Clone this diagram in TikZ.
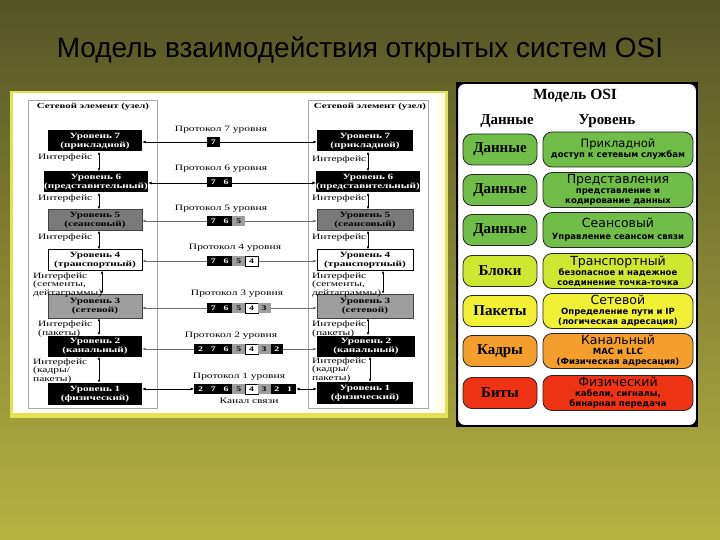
\documentclass[tikz,border=0pt]{standalone}
\usepackage{fontspec}
\setmainfont{Liberation Serif}
\newfontfamily\titlef{Liberation Sans}
\newfontfamily\lf[FakeStretch=1.4]{Liberation Serif}
\newfontfamily\pillf{DejaVu Sans}
\usetikzlibrary{arrows.meta,calc}
\definecolor{bgtop}{RGB}{84,84,38}
\definecolor{bgbot}{RGB}{182,180,66}
\definecolor{grn}{RGB}{112,190,72}
\definecolor{ygrn}{RGB}{206,232,50}
\definecolor{yel}{RGB}{242,240,52}
\definecolor{org}{RGB}{244,158,46}
\definecolor{rd}{RGB}{238,50,20}
\definecolor{glow}{RGB}{226,226,84}
\definecolor{gmid}{RGB}{122,122,122}
\definecolor{glight}{RGB}{158,158,158}
\definecolor{pline}{RGB}{110,110,110}
\newcommand\ptit[1]{{\mdseries\fontsize{12.5}{13}\selectfont #1}}
\begin{document}
\begin{tikzpicture}[x=1pt,y=-1pt,
  lvl/.style={minimum width=94, minimum height=21, inner sep=0pt, align=center,
    font=\lf\bfseries\fontsize{8}{8.6}\selectfont},
  blk/.style={lvl, fill=black, text=white},
  gra/.style={lvl, fill=gmid, draw=gray!50!black, text=black},
  grb/.style={lvl, fill=glight, draw=gray!50!black, text=black},
  wht/.style={lvl, fill=white, draw=black, text=black},
  lbl/.style={font=\lf\fontsize{8.2}{8.2}\selectfont, inner sep=0pt, align=left},
  plbl/.style={font=\lf\fontsize{8.2}{8.2}\selectfont, inner sep=0pt},
  hdr/.style={font=\lf\bfseries\fontsize{7.7}{9}\selectfont, inner sep=0pt},
  iarr/.style={{Latex[length=3pt,width=2.6pt]}-{Latex[length=3pt,width=2.6pt]}, line width=0.7pt},
  parr/.style={{Latex[length=3.5pt,width=3pt]}-{Latex[length=3.5pt,width=3pt]}, line width=0.7pt},
  cell/.style={minimum width=12.7, minimum height=10, inner sep=0pt,
    font=\lf\bfseries\fontsize{7}{7}\selectfont},
  cs7/.style={fill=black, text=white},
  cs6/.style={fill=black, text=white},
  cs5/.style={fill=glight, text=black},
  cs4/.style={fill=white, draw=black, text=black},
  cs3/.style={fill=glight, text=black},
  cs2/.style={fill=black, text=white},
  cs1/.style={fill=black, text=white},
  dpill/.style={rounded corners=9, minimum width=74, minimum height=31, draw=black!85,
    line width=0.8pt, inner sep=0pt, font=\bfseries\fontsize{15}{16}\selectfont},
  lpill/.style={rounded corners=9, minimum width=150, minimum height=35, draw=black!85,
    line width=0.8pt, inner sep=0pt, align=center,
    font=\pillf\bfseries\fontsize{8.5}{10}\selectfont}
]
% background
\useasboundingbox (0,0) rectangle (720,540);
\shade[top color=bgtop, bottom color=bgbot] (0,0) rectangle (720,540);
\node[font=\titlef\fontsize{28}{30}\selectfont, text=black] (title) at (360,50) {Модель взаимодействия открытых систем OSI};

% left panel
\fill[glow] (10,91) rectangle (448,418);
\fill[white!92!yellow] (13,93) rectangle (445,413);
\fill[white] (13,93) rectangle (436,411);
\draw[gray!70, line width=0.6pt] (28,100) rectangle (157,408);
\draw[gray!70, line width=0.6pt] (308,100) rectangle (428,408);
\node[hdr] (hl) at (93,107) {Сетевой элемент (узел)};
\node[hdr] (hr) at (370,107) {Сетевой элемент (узел)};

\node[blk] (L7) at (95,141) {Уровень 7\\(прикладной)};
\node[blk, minimum width=102] (L6) at (96,182) {Уровень 6\\(представительный)};
\node[gra] (L5) at (95,220) {Уровень 5\\(сеансовый)};
\node[wht] (L4) at (95,260) {Уровень 4\\(транспортный)};
\node[grb, minimum height=24] (L3) at (95,306) {Уровень 3\\(сетевой)};
\node[blk] (L2) at (95,346) {Уровень 2\\(канальный)};
\node[blk, minimum height=22] (L1) at (95,394) {Уровень 1\\(физический)};

\node[blk, minimum width=96] (R7) at (365,141) {Уровень 7\\(прикладной)};
\node[blk, minimum width=103] (R6) at (368,182) {Уровень 6\\(представительный)};
\node[gra, minimum width=96] (R5) at (365,220) {Уровень 5\\(сеансовый)};
\node[wht, minimum width=96] (R4) at (365,260) {Уровень 4\\(транспортный)};
\node[grb, minimum width=96, minimum height=24] (R3) at (365,306) {Уровень 3\\(сетевой)};
\node[blk, minimum width=98] (R2) at (366,346) {Уровень 2\\(канальный)};
\node[blk, minimum width=96, minimum height=22] (R1) at (365,393) {Уровень 1\\(физический)};

% interface arrows
\coordinate (xa) at (99,0);
\coordinate (xb) at (102,0);
\coordinate (xc) at (368,0);
\coordinate (xd) at (383,0);
\coordinate (xe) at (370,0);
\draw[iarr] (L7.south -| xa) -- (L6.north -| xa);
\draw[iarr] (L6.south -| xa) -- (L5.north -| xa);
\draw[iarr] (L5.south -| xa) -- (L4.north -| xa);
\draw[iarr] (L4.south -| xb) -- (L3.north -| xb);
\draw[iarr] (L3.south -| xa) -- (L2.north -| xa);
\draw[iarr] (L2.south -| xa) -- (L1.north -| xa);
\draw[iarr] (R7.south -| xc) -- (R6.north -| xc);
\draw[iarr] (R6.south -| xc) -- (R5.north -| xc);
\draw[iarr] (R5.south -| xc) -- (R4.north -| xc);
\draw[iarr] (R4.south -| xd) -- (R3.north -| xd);
\draw[iarr] (R3.south -| xc) -- (R2.north -| xc);
\draw[iarr] (R2.south -| xe) -- (R1.north -| xe);

% interface labels
\node[lbl, anchor=west] (il1) at (38,158) {Интерфейс};
\node[lbl, anchor=west] (il2) at (38,199) {Интерфейс};
\node[lbl, anchor=west] (il3) at (38,238) {Интерфейс};
\node[lbl, anchor=west] (il4) at (33,285) {Интерфейс\\(сегменты,\\дейтаграммы)};
\node[lbl, anchor=west] (il5) at (38,329) {Интерфейс\\(пакеты)};
\node[lbl, anchor=west] (il6) at (33,371) {Интерфейс\\(кадры/\\пакеты)};
\node[lbl, anchor=west] (ir1) at (312,160) {Интерфейс};
\node[lbl, anchor=west] (ir2) at (312,199) {Интерфейс};
\node[lbl, anchor=west] (ir3) at (312,238) {Интерфейс};
\node[lbl, anchor=west] (ir4) at (312,285) {Интерфейс\\(сегменты,\\дейтаграммы)};
\node[lbl, anchor=west] (ir5) at (312,329) {Интерфейс\\(пакеты)};
\node[lbl, anchor=west] (ir6) at (312,370) {Интерфейс\\(кадры/\\пакеты)};

% protocol lines
\coordinate (P7) at (250,142);
\coordinate (P6) at (250,183);
\coordinate (P5) at (250,221);
\coordinate (P4) at (250,261);
\coordinate (P3) at (250,308);
\coordinate (P2) at (250,349);
\coordinate (P1) at (250,389);
\draw[parr] (L7.east |- P7) -- (R7.west |- P7);
\draw[parr] (L6.east |- P6) -- (R6.west |- P6);
\draw[parr, pline] (L5.east |- P5) -- (R5.west |- P5);
\draw[parr, pline] (L4.east |- P4) -- (R4.west |- P4);
\draw[parr, pline] (L3.east |- P3) -- (R3.west |- P3);
\draw[parr, pline] (L2.east |- P2) -- (R2.west |- P2);

% protocol labels
\node[plbl] (t7) at (221,130) {Протокол 7 уровня};
\node[plbl] (t6) at (221,169) {Протокол 6 уровня};
\node[plbl] (t5) at (221,209) {Протокол 5 уровня};
\node[plbl] (t4) at (235,248) {Протокол 4 уровня};
\node[plbl] (t3) at (237,294) {Протокол 3 уровня};
\node[plbl] (t2) at (231,336) {Протокол 2 уровня};
\node[plbl] (t1) at (239,377) {Протокол 1 уровня};
\node[plbl] (kanal) at (249,401) {Канал связи};

% cells
\foreach \d [count=\i] in {7} \node[cell, style=cs\d] (p7c\i) at ({207+12.7*(\i-0.5)},142) {\d};
\foreach \d [count=\i] in {7,6} \node[cell, style=cs\d] (p6c\i) at ({207+12.7*(\i-0.5)},182) {\d};
\foreach \d [count=\i] in {7,6,5} \node[cell, style=cs\d] (p5c\i) at ({207+12.7*(\i-0.5)},221) {\d};
\foreach \d [count=\i] in {7,6,5,4} \node[cell, style=cs\d] (p4c\i) at ({207+12.7*(\i-0.5)},261) {\d};
\foreach \d [count=\i] in {7,6,5,4,3} \node[cell, style=cs\d] (p3c\i) at ({207+12.7*(\i-0.5)},308) {\d};
\foreach \d [count=\i] in {2,7,6,5,4,3,2} \node[cell, style=cs\d] (p2c\i) at ({194.3+12.7*(\i-0.5)},349) {\d};
\foreach \d [count=\i] in {2,7,6,5,4,3,2,1} \node[cell, style=cs\d] (p1c\i) at ({194.3+12.7*(\i-0.5)},389) {\d};
\draw[parr] (L1.east |- P1) -- (p1c1.west);
\draw[parr] (p1c8.east) -- (R1.west |- P1);

% right panel
\fill[black] (456,82) rectangle (698,427);
\filldraw[fill=white, draw=black, line width=1pt, rounded corners=7] (457.5,83.5) rectangle (696.5,425.5);
\node[font=\bfseries\fontsize{15.5}{17}\selectfont] (osi) at (575,96) {Модель OSI};
\node[font=\bfseries\fontsize{15}{17}\selectfont] (hd) at (507,121) {Данные};
\node[font=\bfseries\fontsize{15}{17}\selectfont] (hu) at (607,121) {Уровень};

\node[dpill, fill=grn] (d1) at (500,149.5) {Данные};
\node[lpill, fill=grn] (u1) at (618,149.5) {{\mdseries\fontsize{11.5}{12}\selectfont Прикладной}\\доступ к сетевым службам};
\node[dpill, fill=grn] (d2) at (500,190) {Данные};
\node[lpill, fill=grn] (u2) at (618,190) {\ptit{Представления}\\представление и\\кодирование данных};
\node[dpill, fill=grn] (d3) at (500,230) {Данные};
\node[lpill, fill=grn] (u3) at (618,230) {\ptit{Сеансовый}\\[2pt]Управление сеансом связи};
\node[dpill, fill=ygrn] (d4) at (500,271) {Блоки};
\node[lpill, fill=ygrn] (u4) at (618,271) {\ptit{Транспортный}\\безопасное и надежное\\соединение точка-точка};
\node[dpill, fill=yel] (d5) at (500,311) {Пакеты};
\node[lpill, fill=yel] (u5) at (618,311) {\ptit{Сетевой}\\Определение пути и IP\\(логическая адресация)};
\node[dpill, fill=org] (d6) at (500,351) {Кадры};
\node[lpill, fill=org] (u6) at (618,351) {\ptit{Канальный}\\MAC и LLC\\(Физическая адресация)};
\node[dpill, fill=rd] (d7) at (500,393) {Биты};
\node[lpill, fill=rd] (u7) at (618,393) {\ptit{Физический}\\кабели, сигналы,\\бинарная передача};
\end{tikzpicture}
\end{document}
